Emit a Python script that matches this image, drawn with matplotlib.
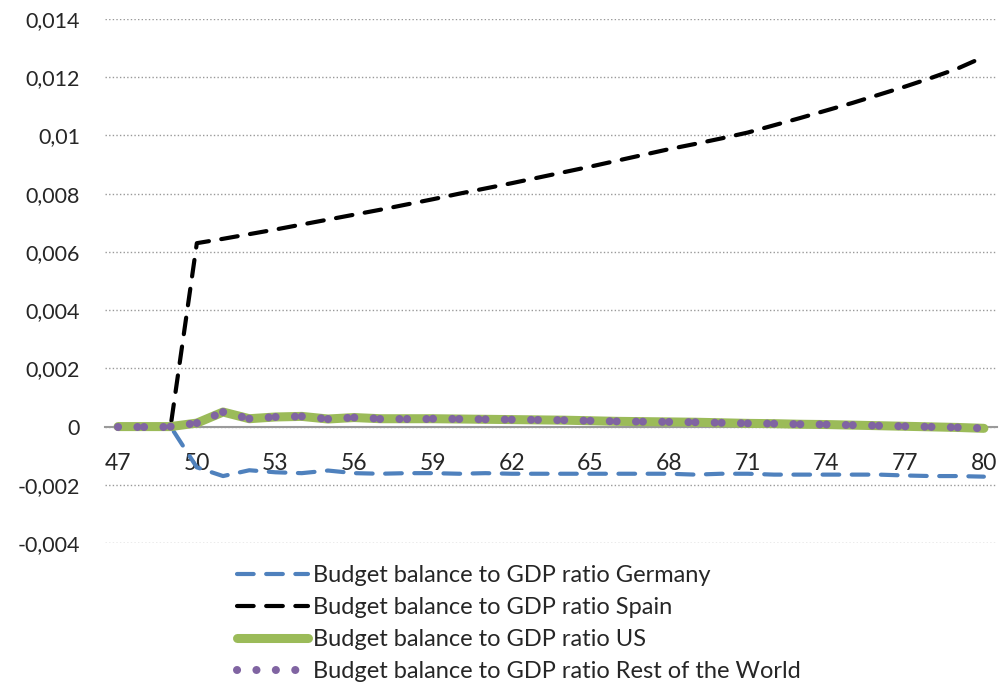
import matplotlib
matplotlib.use("Agg")
import matplotlib.pyplot as plt
from matplotlib.ticker import FuncFormatter

years = list(range(47, 81))

germany = [0, 0, 0, -0.0014, -0.0017, -0.00150, -0.00157, -0.00160, -0.00151, -0.00160,
           -0.00162, -0.00160, -0.00160, -0.00162, -0.00160, -0.00162, -0.00162, -0.00162,
           -0.00162, -0.00162, -0.00162, -0.00162, -0.00165, -0.00162, -0.00162, -0.00165,
           -0.00165, -0.00165, -0.00165, -0.00165, -0.00168, -0.00170, -0.00170, -0.00172]

spain = [0, 0, 0, 0.00630, 0.00645, 0.00661, 0.00677, 0.00694, 0.00711, 0.00728,
         0.00745, 0.00763, 0.00781, 0.00800, 0.00818, 0.00836, 0.00855, 0.00874,
         0.00893, 0.00913, 0.00933, 0.00953, 0.00971, 0.00990, 0.01010, 0.01035,
         0.01060, 0.01086, 0.01112, 0.01140, 0.01168, 0.01198, 0.01230, 0.01270]

us = [0, 0, 0, 0.00012, 0.00050, 0.00027, 0.00033, 0.00035, 0.00026, 0.00031,
      0.00027, 0.00027, 0.00027, 0.00026, 0.00025, 0.00024, 0.00023, 0.00022,
      0.00020, 0.00018, 0.00017, 0.00016, 0.00015, 0.00013, 0.00011, 0.00010,
      0.00008, 0.00007, 0.00005, 0.00003, 0.00001, -0.00001, -0.00003, -0.00006]

rest_of_world = [0, 0, 0, 0.00012, 0.00050, 0.00027, 0.00033, 0.00035, 0.00026, 0.00031,
                 0.00027, 0.00027, 0.00027, 0.00026, 0.00025, 0.00024, 0.00023, 0.00022,
                 0.00020, 0.00018, 0.00017, 0.00016, 0.00015, 0.00013, 0.00011, 0.00010,
                 0.00008, 0.00007, 0.00005, 0.00003, 0.00001, -0.00001, -0.00003, -0.00006]

labels = ["Budget balance to GDP ratio Germany",
          "Budget balance to GDP ratio Spain",
          "Budget balance to GDP ratio US",
          "Budget balance to GDP ratio Rest of the World"]

plt.rcParams["font.family"] = ["Lato", "DejaVu Sans"]
text_color = "#262626"

fig = plt.figure(figsize=(10, 6.84), dpi=100)
ax = fig.add_axes([0.105, 0.2061, 0.892, 0.7661])

ax.plot(years, germany, color="#4F81BD", lw=3, linestyle=(0, (4, 3)),
        dash_capstyle="round", solid_capstyle="round", label=labels[0], zorder=3)
ax.plot(years, spain, color="black", lw=3, linestyle=(0, (4, 3)),
        dash_capstyle="round", label=labels[1], zorder=3)
ax.plot(years, us, color="#9BBB59", lw=6.5, solid_capstyle="round",
        label=labels[2], zorder=4)
# excel restarts the dot pattern at each point, hence one plot per segment
for i in range(len(years) - 1):
    ax.plot(years[i:i + 2], rest_of_world[i:i + 2], color="#8064A2", lw=5.8,
            linestyle=(0, (0.01, 2.4)), dash_capstyle="round",
            label=labels[3] if i == 0 else None, zorder=5)

ax.set_xlim(46.5, 80.5)
ax.set_ylim(-0.004, 0.014)
ax.set_yticks([-0.004 + 0.002 * k for k in range(10)])
ax.yaxis.set_major_formatter(FuncFormatter(
    lambda v, p: "0" if round(v, 4) == 0 else ("%g" % round(v, 4)).replace(".", ",")))
ax.set_xticks(years[::3])
ax.set_xticklabels([str(y) for y in years[::3]])

ax.grid(axis="y", color="#999999", linestyle=(0, (1, 1.6)), lw=1)
for side in ["top", "right", "left"]:
    ax.spines[side].set_visible(False)
ax.spines["bottom"].set_position(("data", 0))
ax.spines["bottom"].set_color("#9A9A9A")
ax.spines["bottom"].set_linewidth(1.5)
ax.spines["bottom"].set_zorder(2)
ax.tick_params(axis="both", length=0, labelcolor=text_color)
ax.tick_params(axis="y", pad=18, labelsize=15.5)
ax.tick_params(axis="x", pad=19, labelsize=16.5)

leg = fig.legend(loc="upper left", bbox_to_anchor=(0.228, 0.188), frameon=False,
                 fontsize=17, handlelength=3.0, handletextpad=0.2, labelspacing=0.47,
                 borderaxespad=0)
for t in leg.get_texts():
    t.set_color(text_color)

fig.savefig("out.png", dpi=100)
